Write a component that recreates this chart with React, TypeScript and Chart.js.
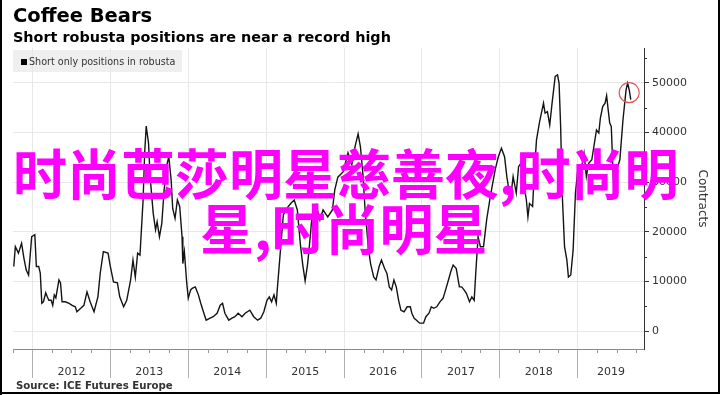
import React, { useEffect, useRef } from "react";
import { Chart, registerables } from "chart.js";

Chart.register(...registerables);

// ---- data ----
const yearTicks = [2012, 2013, 2014, 2015, 2016, 2017, 2018, 2019];
const yearLabels = ["2012", "2013", "2014", "2015", "2016", "2017", "2018", "2019"];
const valueTicks = [0, 10000, 20000, 30000, 40000, 50000];

const dates = [
  2011.76, 2011.78, 2011.82, 2011.86, 2011.89, 2011.92, 2011.95, 2011.99, 2012.03, 2012.05,
  2012.08, 2012.10, 2012.12, 2012.14, 2012.17, 2012.19, 2012.21, 2012.24, 2012.26, 2012.28,
  2012.30, 2012.34, 2012.36, 2012.38, 2012.42, 2012.47, 2012.51, 2012.55, 2012.57, 2012.62,
  2012.66, 2012.70, 2012.74, 2012.79, 2012.84, 2012.87, 2012.91, 2012.97, 2013.00, 2013.04,
  2013.09, 2013.12, 2013.17, 2013.21, 2013.26, 2013.29, 2013.32, 2013.35, 2013.38, 2013.42,
  2013.44, 2013.46, 2013.49, 2013.51, 2013.55, 2013.58, 2013.60, 2013.63, 2013.66, 2013.69,
  2013.73, 2013.75, 2013.78, 2013.80, 2013.83, 2013.86, 2013.89, 2013.92, 2013.93, 2013.95,
  2013.98, 2014.00, 2014.03, 2014.05, 2014.09, 2014.13, 2014.16, 2014.20, 2014.23, 2014.28,
  2014.32, 2014.37, 2014.41, 2014.44, 2014.47, 2014.52, 2014.56, 2014.60, 2014.64, 2014.69,
  2014.73, 2014.79, 2014.84, 2014.89, 2014.93, 2014.97, 2015.01, 2015.04, 2015.07, 2015.10,
  2015.13, 2015.14, 2015.22, 2015.27, 2015.32, 2015.36, 2015.40, 2015.44, 2015.47, 2015.50,
  2015.53, 2015.55, 2015.59, 2015.64, 2015.69, 2015.73, 2015.79, 2015.85, 2015.88, 2015.92,
  2015.99, 2016.05, 2016.10, 2016.14, 2016.18, 2016.21, 2016.24, 2016.27, 2016.31, 2016.34,
  2016.38, 2016.41, 2016.45, 2016.48, 2016.52, 2016.55, 2016.58, 2016.61, 2016.64, 2016.67,
  2016.70, 2016.73, 2016.77, 2016.81, 2016.85, 2016.87, 2016.90, 2016.93, 2016.97, 2017.02,
  2017.05, 2017.09, 2017.12, 2017.15, 2017.19, 2017.23, 2017.27, 2017.29, 2017.34, 2017.37,
  2017.40, 2017.44, 2017.48, 2017.51, 2017.54, 2017.57, 2017.61, 2017.64, 2017.67, 2017.69,
  2017.72, 2017.75, 2017.79, 2017.83, 2017.88, 2017.94, 2017.98, 2018.02, 2018.06, 2018.09,
  2018.13, 2018.15, 2018.17, 2018.21, 2018.24, 2018.27, 2018.30, 2018.34, 2018.36, 2018.38,
  2018.42, 2018.44, 2018.47, 2018.51, 2018.56, 2018.58, 2018.61, 2018.64, 2018.67, 2018.71,
  2018.74, 2018.76, 2018.78, 2018.80, 2018.83, 2018.86, 2018.88, 2018.91, 2018.94, 2018.97,
  2019.00, 2019.05, 2019.08, 2019.11, 2019.14, 2019.18, 2019.22, 2019.24, 2019.27, 2019.29,
  2019.32, 2019.35, 2019.37, 2019.39, 2019.41, 2019.43, 2019.45, 2019.46, 2019.50, 2019.54,
  2019.58, 2019.62, 2019.64, 2019.66, 2019.68,
];

const shortPositions = [
  13000, 17000, 15700, 17700, 14700, 12300, 11300, 19000, 19400, 13000,
  13000, 11700, 5600, 5900, 7700, 6900, 6200, 6200, 5200, 7300,
  6700, 10300, 9700, 5900, 5900, 5600, 5200, 4900, 3900, 4600,
  5200, 7900, 5900, 3900, 6900, 11700, 16000, 15700, 13000, 9900,
  9700, 6900, 4900, 6200, 10300, 14300, 10900, 15700, 15300, 26400,
  35800, 41300, 37800, 31100, 23700, 20400, 22000, 19000, 21700, 28400,
  33800, 35100, 30400, 24700, 22700, 26400, 25100, 19000, 13600, 16000,
  9700, 6600, 8300, 8600, 8900, 7300, 5600, 3600, 2200, 2600,
  2900, 3600, 5200, 5600, 3600, 2200, 2600, 2900, 3600, 2900,
  3600, 4200, 2900, 2200, 2600, 3900, 6200, 6900, 5900, 7300,
  5600, 7900, 23400, 24800, 25800, 26400, 24400, 17300, 13300, 10100,
  13300, 16300, 23400, 25400, 22400, 24400, 23000, 24400, 28400, 31000,
  32100, 35900, 33500, 37100, 39700, 37100, 31900, 24400, 17000, 13600,
  10900, 10300, 13000, 14300, 12600, 11600, 8900, 8300, 10300, 8900,
  6200, 4200, 3900, 4900, 4900, 3600, 2600, 2200, 1600, 1600,
  2900, 3600, 4900, 4600, 4900, 5900, 6600, 7600, 10300, 12000,
  13300, 12600, 8900, 8900, 8300, 7600, 5900, 6900, 6200, 11600,
  19000, 17000, 17000, 22400, 27400, 32500, 35100, 36800, 35100, 31000,
  27100, 28400, 31100, 27800, 33100, 33800, 30400, 26400, 23000, 25700,
  25100, 31400, 38500, 42200, 45900, 43900, 44200, 41500, 45900, 51300,
  51600, 49900, 41200, 27800, 17000, 14300, 10900, 11300, 16300, 27800,
  32500, 33100, 35800, 31100, 33800, 34500, 38500, 40500, 39900, 42900,
  45200, 45900, 47400, 44600, 41900, 41200, 33100, 29400, 32500, 34500,
  42500, 48600, 49900, 48600, 46600,
];

const highlightDate = 2019.66;
const highlightValue = 48000;

const FONT = "'DejaVu Sans', Verdana, sans-serif";

const decorPlugin = {
  id: "decor",
  afterDraw(chart: any) {
    const ctx = chart.ctx;
    const xs = chart.scales.x;
    const ys = chart.scales.y;
    const area = chart.chartArea;
    ctx.save();
    // quarter minor ticks on x axis
    ctx.strokeStyle = "#9a9a9a";
    ctx.lineWidth = 1;
    for (let y = 2011; y <= 2019; y++) {
      for (let q = 1; q < 4; q++) {
        const v = y + q / 4;
        if (v < xs.min || v > xs.max) continue;
        const px = Math.round(xs.getPixelForValue(v)) + 0.5;
        ctx.beginPath();
        ctx.moveTo(px, area.bottom);
        ctx.lineTo(px, area.bottom + 4);
        ctx.stroke();
      }
    }
    // minor ticks on right axis
    ctx.strokeStyle = "#333";
    for (let v = 5000; v < ys.max; v += 10000) {
      const py = Math.round(ys.getPixelForValue(v)) + 0.5;
      ctx.beginPath();
      ctx.moveTo(area.right, py);
      ctx.lineTo(area.right + 3, py);
      ctx.stroke();
    }
    // year labels centred in the visible span of each year
    ctx.fillStyle = "#333";
    ctx.font = `11px ${FONT}`;
    ctx.textAlign = "center";
    ctx.textBaseline = "middle";
    yearTicks.forEach((yr, i) => {
      const a = Math.max(yr, xs.min);
      const b = Math.min(yr + 1, xs.max);
      const px = (xs.getPixelForValue(a) + xs.getPixelForValue(b)) / 2;
      ctx.fillText(yearLabels[i], px, area.bottom + 23);
    });
    // highlight circle
    const cx = xs.getPixelForValue(highlightDate);
    const cy = ys.getPixelForValue(highlightValue);
    ctx.strokeStyle = "#e05a5a";
    ctx.lineWidth = 1.2;
    ctx.beginPath();
    ctx.arc(cx, cy, 10, 0, Math.PI * 2);
    ctx.stroke();
    ctx.restore();
  },
};

export default function App() {
  const canvasRef = useRef<HTMLCanvasElement | null>(null);

  useEffect(() => {
    document.body.style.margin = "0";
    const canvas = canvasRef.current;
    if (!canvas) return;
    const chart = new Chart(canvas, {
      type: "line",
      data: {
        datasets: [
          {
            label: "Short only positions in robusta",
            data: dates.map((d, i) => ({ x: d, y: shortPositions[i] })),
            borderColor: "#141414",
            borderWidth: 1.4,
            pointRadius: 0,
            tension: 0,
            fill: false,
          },
        ],
      },
      options: {
        responsive: false,
        maintainAspectRatio: false,
        devicePixelRatio: 1,
        animation: false,
        layout: { padding: { left: 13, top: 48, right: 0, bottom: 0 } },
        plugins: {
          legend: { display: false },
          tooltip: { enabled: false },
          title: { display: false },
        },
        scales: {
          x: {
            type: "linear",
            min: 2011.75,
            max: 2019.85,
            afterBuildTicks: (s: any) => {
              s.ticks = yearTicks.map((v) => ({ value: v }));
            },
            afterFit: (s: any) => {
              s.height = 46;
            },
            ticks: { display: false },
            grid: {
              color: "#e8e8e8",
              lineWidth: 1,
              drawTicks: true,
              tickLength: 29,
              tickColor: "#b0b0b0",
            },
            border: { display: true, color: "#8a8a8a", width: 1 },
          },
          y: {
            type: "linear",
            position: "right",
            min: -3600,
            max: 57000,
            afterBuildTicks: (s: any) => {
              s.ticks = valueTicks.map((v) => ({ value: v }));
            },
            afterFit: (s: any) => {
              s.width = 76;
            },
            ticks: {
              color: "#333",
              font: { family: FONT, size: 11 },
              padding: 3,
              callback: (v: any) => String(v),
            },
            grid: {
              color: "#e8e8e8",
              lineWidth: 1,
              drawTicks: true,
              tickLength: 5,
              tickColor: "#333",
            },
            border: { display: true, color: "#333", width: 1 },
            title: {
              display: true,
              text: "Contracts",
              color: "#333",
              font: { family: FONT, size: 12 },
              padding: { top: 11, bottom: 0 },
            },
          },
        },
      },
      plugins: [decorPlugin],
    });
    return () => chart.destroy();
  }, []);

  return (
    <div
      style={{
        position: "relative",
        width: 720,
        height: 395,
        overflow: "hidden",
        background: "#fff",
        fontFamily: FONT,
      }}
    >
      <div
        style={{
          position: "absolute",
          left: 13,
          top: 50,
          width: 169,
          height: 22,
          background: "rgba(236,236,236,0.85)",
        }}
      />
      <canvas
        ref={canvasRef}
        width={720}
        height={395}
        style={{ position: "absolute", left: 0, top: 0, width: 720, height: 395 }}
      />
      <div
        style={{
          position: "absolute",
          left: 21,
          top: 59,
          width: 6,
          height: 6,
          background: "#000",
        }}
      />
      <div
        style={{
          position: "absolute",
          left: 29,
          top: 56,
          fontSize: 9.6,
          lineHeight: "12px",
          color: "#333",
          whiteSpace: "nowrap",
        }}
      >
        Short only positions in robusta
      </div>
      <div
        style={{
          position: "absolute",
          left: 13,
          top: 6,
          fontSize: 19.5,
          fontWeight: 700,
          lineHeight: 1,
          color: "#000",
          whiteSpace: "nowrap",
        }}
      >
        Coffee Bears
      </div>
      <div
        style={{
          position: "absolute",
          left: 13,
          top: 30,
          fontSize: 14.4,
          fontWeight: 700,
          lineHeight: 1,
          color: "#000",
          whiteSpace: "nowrap",
        }}
      >
        Short robusta positions are near a record high
      </div>
      <div
        style={{
          position: "absolute",
          left: 16,
          top: 381,
          fontSize: 10.2,
          fontWeight: 700,
          lineHeight: 1,
          color: "#333",
          whiteSpace: "nowrap",
        }}
      >
        Source: ICE Futures Europe
      </div>
      <div
        style={{
          position: "absolute",
          left: 13,
          top: 144,
          fontFamily: "'Noto Sans CJK SC', sans-serif",
          fontSize: 54,
          fontWeight: 700,
          lineHeight: "55px",
          color: "#ff00ff",
          whiteSpace: "nowrap",
        }}
      >
        时尚芭莎明星慈善夜,时尚明
      </div>
      <div
        style={{
          position: "absolute",
          left: 200,
          top: 199,
          fontFamily: "'Noto Sans CJK SC', sans-serif",
          fontSize: 54,
          fontWeight: 700,
          lineHeight: "55px",
          color: "#ff00ff",
          whiteSpace: "nowrap",
        }}
      >
        星,时尚明星
      </div>
      <div style={{ position: "absolute", left: 0, top: 0, width: 2, height: 395, background: "#000" }} />
      <div style={{ position: "absolute", left: 718, top: 0, width: 2, height: 394, background: "#000" }} />
      <div style={{ position: "absolute", left: 0, top: 392, width: 720, height: 2, background: "#000" }} />
    </div>
  );
}
